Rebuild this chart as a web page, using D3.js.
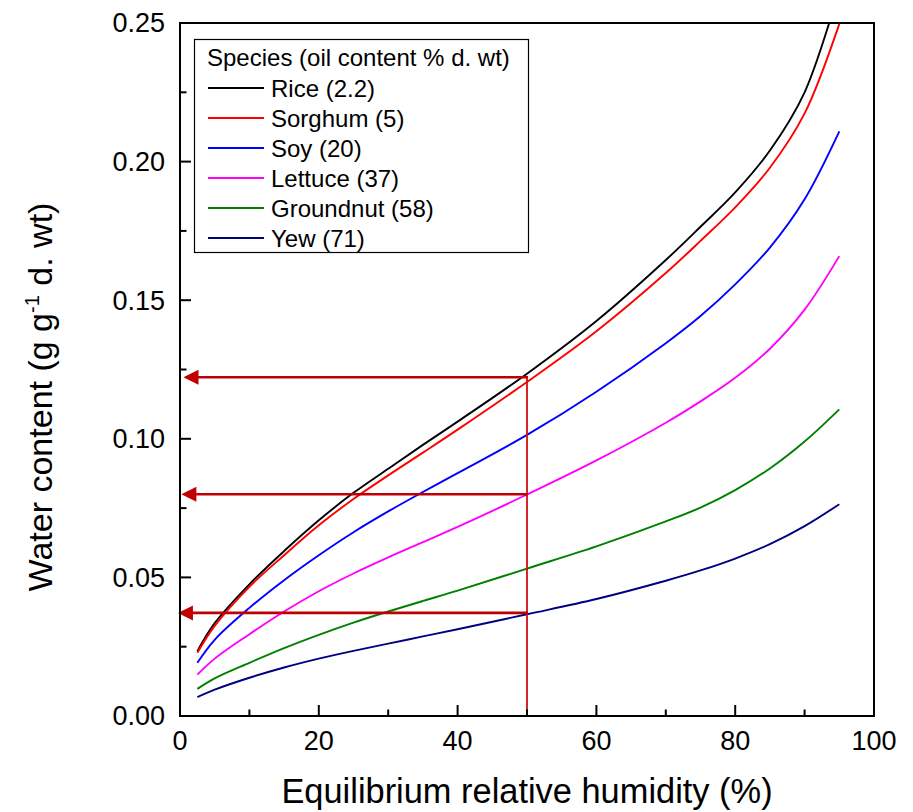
<!DOCTYPE html>
<html>
<head>
<meta charset="utf-8">
<script src="https://cdn.jsdelivr.net/npm/d3@7"></script>
<style>
  html, body { margin: 0; padding: 0; background: #ffffff; }
  svg { display: block; font-family: Arial, "Liberation Sans", sans-serif; }
</style>
</head>
<body>
<svg id="chart" width="913" height="812"></svg>
<script>
// ---- data ----
const rh = [2.5, 5, 10, 15, 20, 25, 30, 35, 40, 50, 60, 70, 75, 80, 85, 90, 95];
const rice      = [0.0234, 0.0335, 0.0475, 0.0595, 0.0706, 0.0805, 0.0892, 0.0978, 0.1062, 0.1235, 0.1425, 0.1645, 0.1765, 0.1889, 0.2040, 0.2250, 0.2620];
const sorghum   = [0.0228, 0.0325, 0.0466, 0.0580, 0.0688, 0.0783, 0.0868, 0.0950, 0.1033, 0.1205, 0.1388, 0.1598, 0.1714, 0.1835, 0.1978, 0.2174, 0.2497];
const soy       = [0.0192, 0.0275, 0.0390, 0.0490, 0.0580, 0.0663, 0.0738, 0.0808, 0.0876, 0.1014, 0.1170, 0.1345, 0.1443, 0.1557, 0.1690, 0.1864, 0.2109];
const lettuce   = [0.0149, 0.0207, 0.0295, 0.0377, 0.0450, 0.0514, 0.0572, 0.0627, 0.0682, 0.0799, 0.0922, 0.1058, 0.1135, 0.1220, 0.1325, 0.1466, 0.1659];
const groundnut = [0.0098, 0.0136, 0.0192, 0.0245, 0.0293, 0.0337, 0.0377, 0.0415, 0.0452, 0.0532, 0.0612, 0.0702, 0.0752, 0.0815, 0.0893, 0.0990, 0.1106];
const yew       = [0.0068, 0.0095, 0.0138, 0.0175, 0.0207, 0.0235, 0.0261, 0.0287, 0.0313, 0.0367, 0.0422, 0.0488, 0.0525, 0.0568, 0.0620, 0.0685, 0.0764];

const seriesNames  = ["Rice (2.2)", "Sorghum (5)", "Soy (20)", "Lettuce (37)", "Groundnut (58)", "Yew (71)"];
const seriesColors = ["#000000", "#ff0000", "#0000ff", "#ff00ff", "#008000", "#000080"];
const seriesValues = [rice, sorghum, soy, lettuce, groundnut, yew];

const legendTitle = "Species (oil content % d. wt)";
const xTicks = [0, 20, 40, 60, 80, 100];
const xMinorTicks = [10, 30, 50, 70, 90];
const yTicks = [0.00, 0.05, 0.10, 0.15, 0.20, 0.25];
const yMinorTicks = [0.025, 0.075, 0.125, 0.175, 0.225];

const markRH = 50;                       // vertical guide line
const arrowLevels = [0.1222, 0.0800, 0.0372];
const arrowTips   = [0.5, 0.2, -0.3];    // x where each arrow head ends

// ---- layout ----
const svg = d3.select("#chart");
const L = 180, R = 874, T = 23, B = 716;
const x = d3.scaleLinear().domain([0, 100]).range([L, R]);
const y = d3.scaleLinear().domain([0, 0.25]).range([B, T]);

svg.append("defs").append("clipPath").attr("id", "plotclip")
  .append("rect").attr("x", L).attr("y", T).attr("width", R - L).attr("height", B - T);

// ---- curves ----
const line = d3.line()
  .x(d => x(d[0])).y(d => y(d[1]))
  .curve(d3.curveCatmullRom.alpha(0.5));

const gCurves = svg.append("g").attr("clip-path", "url(#plotclip)");
seriesValues.forEach((vals, i) => {
  const pts = rh.map((v, j) => [v, vals[j]]);
  gCurves.append("path")
    .attr("d", line(pts))
    .attr("fill", "none")
    .attr("stroke", seriesColors[i])
    .attr("stroke-width", 1.9);
});

// ---- guide line and arrows ----
const arrowColor = "#c00000";
svg.append("line")
  .attr("x1", x(markRH)).attr("x2", x(markRH))
  .attr("y1", y(arrowLevels[0])).attr("y2", y(0))
  .attr("stroke", "#cc1010").attr("stroke-width", 1.8);

arrowLevels.forEach((lv, i) => {
  const tip = x(arrowTips[i]);
  const yy = y(lv);
  svg.append("line")
    .attr("x1", x(markRH) + 1).attr("x2", tip + 12)
    .attr("y1", yy).attr("y2", yy)
    .attr("stroke", arrowColor).attr("stroke-width", 2.6);
  svg.append("path")
    .attr("d", `M${tip},${yy} L${tip + 15},${yy - 7.5} L${tip + 15},${yy + 7.5} Z`)
    .attr("fill", arrowColor);
});

// ---- axes ----
const axG = svg.append("g");
axG.append("rect")
  .attr("x", L).attr("y", T).attr("width", R - L).attr("height", B - T)
  .attr("fill", "none").attr("stroke", "#000").attr("stroke-width", 2);

xTicks.forEach(t => {
  axG.append("line").attr("x1", x(t)).attr("x2", x(t)).attr("y1", B).attr("y2", B - 11)
    .attr("stroke", "#000").attr("stroke-width", 2);
  axG.append("text").attr("x", x(t)).attr("y", 750)
    .attr("text-anchor", "middle").attr("font-size", 27).text(d3.format("d")(t));
});
xMinorTicks.forEach(t => {
  axG.append("line").attr("x1", x(t)).attr("x2", x(t)).attr("y1", B).attr("y2", B - 6.5)
    .attr("stroke", "#000").attr("stroke-width", 2);
});
yTicks.forEach(t => {
  axG.append("line").attr("x1", L).attr("x2", L + 11).attr("y1", y(t)).attr("y2", y(t))
    .attr("stroke", "#000").attr("stroke-width", 2);
  axG.append("text").attr("x", 165).attr("y", y(t)).attr("dy", "0.35em")
    .attr("text-anchor", "end").attr("font-size", 27).text(d3.format(".2f")(t));
});
yMinorTicks.forEach(t => {
  axG.append("line").attr("x1", L).attr("x2", L + 6.5).attr("y1", y(t)).attr("y2", y(t))
    .attr("stroke", "#000").attr("stroke-width", 2);
});

// axis titles
svg.append("text")
  .attr("x", (L + R) / 2).attr("y", 803)
  .attr("text-anchor", "middle").attr("font-size", 34.4)
  .text("Equilibrium relative humidity (%)");

const yt = svg.append("text")
  .attr("transform", "translate(52,397) rotate(-90)")
  .attr("text-anchor", "middle").attr("font-size", 34);
yt.append("tspan").text("Water content (g g");
yt.append("tspan").attr("font-size", 20).attr("dy", -13).text("-1");
yt.append("tspan").attr("dy", 13).text(" d. wt)");

// ---- legend ----
const lg = svg.append("g");
lg.append("rect").attr("x", 194.5).attr("y", 39.5).attr("width", 334).attr("height", 213)
  .attr("fill", "#fff").attr("stroke", "#000").attr("stroke-width", 1.2);
lg.append("text").attr("x", 207).attr("y", 66).attr("font-size", 24).text(legendTitle);
seriesNames.forEach((name, i) => {
  const cy = 88 + i * 30;
  lg.append("line").attr("x1", 208).attr("x2", 264).attr("y1", cy).attr("y2", cy)
    .attr("stroke", seriesColors[i]).attr("stroke-width", 1.9);
  lg.append("text").attr("x", 271).attr("y", cy + 8.5).attr("font-size", 24).text(name);
});
</script>
</body>
</html>
